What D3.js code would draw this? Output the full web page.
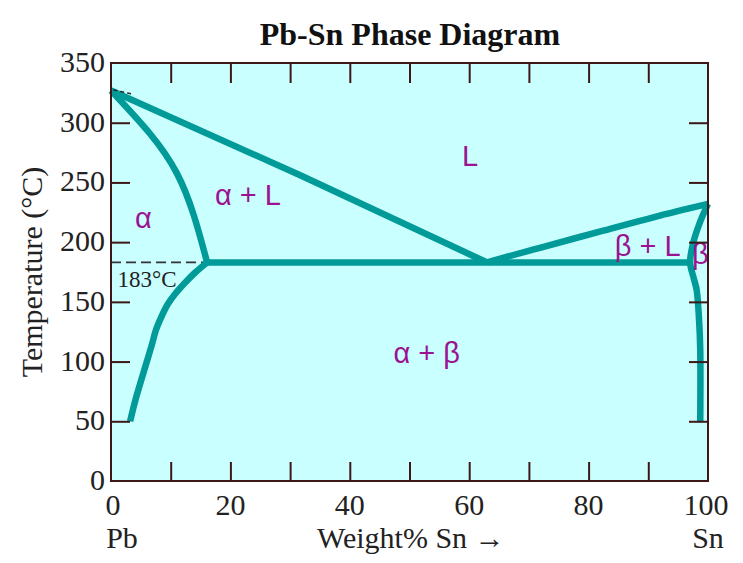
<!DOCTYPE html>
<html>
<head>
<meta charset="utf-8">
<script src="https://cdn.jsdelivr.net/npm/d3@7"></script>
<style>
  html, body { margin: 0; padding: 0; background: #ffffff; }
  svg { display: block; }
</style>
</head>
<body>
<svg id="chart" width="743" height="563"></svg>
<script>
// Pb-Sn binary phase diagram: composition (wt% Sn) vs temperature (°C)
const xTicks = [0, 20, 40, 60, 80, 100];
const xMinorTicks = [10, 20, 30, 40, 50, 60, 70, 80, 90];
const yTicks = [0, 50, 100, 150, 200, 250, 300, 350];
const yInnerTicks = [50, 100, 150, 200, 250, 300];

const eutecticT = 183;

// phase boundaries, [wt% Sn, °C]
const liquidusLeft = [[0, 327], [31.7, 256], [63, 183]];
const liquidusRight = [[63, 183], [65.2, 186.2], [72, 195.5], [82, 209], [91, 221], [100, 232]];
const solidusAlpha = [[0, 327], [6.5, 291], [11, 258], [13.9, 222], [16.1, 183]];
const solvusAlpha = [[16.1, 183], [14.2, 175], [12.4, 166], [10.8, 157], [9.5, 148], [8.4, 137], [7.5, 126], [6.9, 115], [5.4, 90], [4.1, 68], [3.2, 50]];
const betaBoundary = [[100, 232], [98.6, 216], [97.5, 199], [97, 183], [97.6, 170], [98.1, 160], [98.5, 135], [98.7, 110], [98.7, 50]];
const eutecticLine = [[16.1, 183], [97, 183]];
const isothermLine = [[0, 183], [16.1, 183]];
const meltPbMark = [[0.4, 327.5], [3.6, 324]];

const phaseLabels = [
  { text: "L", x: 58.8, t: 264 },
  { text: "α + L", x: 17.4, t: 231 },
  { text: "α", x: 4, t: 212 },
  { text: "β + L", x: 84.4, t: 188 },
  { text: "β", x: 97.3, t: 182 },
  { text: "α + β", x: 47.3, t: 99 }
];

const svg = d3.select("#chart");
const plotLeft = 111, plotRight = 708, plotTop = 63, plotBottom = 481;

const x = d3.scaleLinear().domain([0, 100]).range([plotLeft, plotRight]);
const y = d3.scaleLinear().domain([0, 350]).range([plotBottom, plotTop]);

const serif = "'Liberation Serif', 'Times New Roman', Times, serif";
const sans = "'Liberation Sans', Arial, Helvetica, sans-serif";
const frameColor = "#3d1717";
const curveColor = "#009a98";
const labelColor = "#9b1390";

// plot background
svg.append("rect")
  .attr("x", plotLeft).attr("y", plotTop)
  .attr("width", plotRight - plotLeft).attr("height", plotBottom - plotTop)
  .attr("fill", "#c9ffff");

// title
svg.append("text")
  .attr("x", 410).attr("y", 45)
  .attr("text-anchor", "middle")
  .attr("font-family", serif).attr("font-weight", "bold").attr("font-size", 32)
  .attr("fill", "#111")
  .text("Pb-Sn Phase Diagram");

const line = d3.line().x(d => x(d[0])).y(d => y(d[1]));
const smooth = d3.line().x(d => x(d[0])).y(d => y(d[1])).curve(d3.curveCatmullRom.alpha(0.5));
const natural = d3.line().x(d => x(d[0])).y(d => y(d[1])).curve(d3.curveNatural);

// dashed 183 °C isotherm inside the alpha field
svg.append("path")
  .attr("d", line(isothermLine))
  .attr("fill", "none").attr("stroke", "#333").attr("stroke-width", 1.8)
  .attr("stroke-dasharray", "10,5");

// phase boundaries
const g = svg.append("g")
  .attr("fill", "none")
  .attr("stroke", curveColor)
  .attr("stroke-width", 6.5)
  .attr("stroke-linejoin", "round");

g.append("path").attr("d", line(liquidusLeft));
g.append("path").attr("d", smooth(liquidusRight));
g.append("path").attr("d", natural(solidusAlpha));
g.append("path").attr("d", smooth(solvusAlpha)).attr("stroke-linecap", "butt");
g.append("path").attr("d", smooth(betaBoundary));
g.append("path").attr("d", line(eutecticLine));

svg.append("path")
  .attr("d", line(meltPbMark))
  .attr("fill", "none").attr("stroke", "#222").attr("stroke-width", 1.5)
  .attr("stroke-dasharray", "4,3");

// eutectic temperature label
svg.append("text")
  .attr("x", x(1.1)).attr("y", 287)
  .attr("font-family", serif).attr("font-size", 23)
  .attr("fill", "#222")
  .text(eutecticT + "°C");

// phase field labels
svg.append("g").selectAll("text")
  .data(phaseLabels)
  .join("text")
  .attr("x", d => x(d.x))
  .attr("y", d => y(d.t))
  .attr("font-family", sans)
  .attr("font-size", 29)
  .attr("fill", labelColor)
  .text(d => d.text);

// frame and inward ticks
const axisG = svg.append("g").attr("stroke", frameColor).attr("stroke-width", 2);
axisG.append("rect")
  .attr("x", plotLeft).attr("y", plotTop)
  .attr("width", plotRight - plotLeft).attr("height", plotBottom - plotTop)
  .attr("fill", "none");

const bottomAxis = d3.axisBottom(x).tickValues(xMinorTicks).tickSize(-19).tickFormat("");
const topAxis = d3.axisTop(x).tickValues(xMinorTicks).tickSize(-20).tickFormat("");
const leftAxis = d3.axisLeft(y).tickValues(yInnerTicks).tickSize(-19).tickFormat("");
const rightAxis = d3.axisRight(y).tickValues(yInnerTicks).tickSize(-19).tickFormat("");

function styleAxis(sel) {
  sel.select(".domain").remove();
  sel.selectAll(".tick line").attr("stroke", frameColor).attr("stroke-width", 2);
}
svg.append("g").attr("transform", `translate(0,${plotBottom})`).call(bottomAxis).call(styleAxis);
svg.append("g").attr("transform", `translate(0,${plotTop})`).call(topAxis).call(styleAxis);
svg.append("g").attr("transform", `translate(${plotLeft},0)`).call(leftAxis).call(styleAxis);
svg.append("g").attr("transform", `translate(${plotRight},0)`).call(rightAxis).call(styleAxis);

// tick labels
svg.append("g").selectAll("text")
  .data(yTicks)
  .join("text")
  .attr("x", plotLeft - 6)
  .attr("y", d => y(d) + 9)
  .attr("text-anchor", "end")
  .attr("font-family", serif).attr("font-size", 30)
  .attr("fill", "#222")
  .text(d => d);

svg.append("g").selectAll("text")
  .data(xTicks)
  .join("text")
  .attr("x", d => x(d) + (d === 0 ? 2 : d === 100 ? -2 : 0))
  .attr("y", 515)
  .attr("text-anchor", "middle")
  .attr("font-family", serif).attr("font-size", 30)
  .attr("fill", "#222")
  .text(d => d);

// axis titles
svg.append("text")
  .attr("x", x(0) + 11).attr("y", 548)
  .attr("text-anchor", "middle")
  .attr("font-family", serif).attr("font-size", 30)
  .attr("fill", "#222")
  .text("Pb");
svg.append("text")
  .attr("x", x(100)).attr("y", 548)
  .attr("text-anchor", "middle")
  .attr("font-family", serif).attr("font-size", 30)
  .attr("fill", "#222")
  .text("Sn");
svg.append("text")
  .attr("x", 317).attr("y", 548)
  .attr("font-family", serif).attr("font-size", 30)
  .attr("fill", "#222")
  .text("Weight% Sn →");

svg.append("text")
  .attr("transform", "translate(42,272) rotate(-90)")
  .attr("text-anchor", "middle")
  .attr("font-family", serif).attr("font-size", 30)
  .attr("fill", "#222")
  .text("Temperature (°C)");
</script>
</body>
</html>
